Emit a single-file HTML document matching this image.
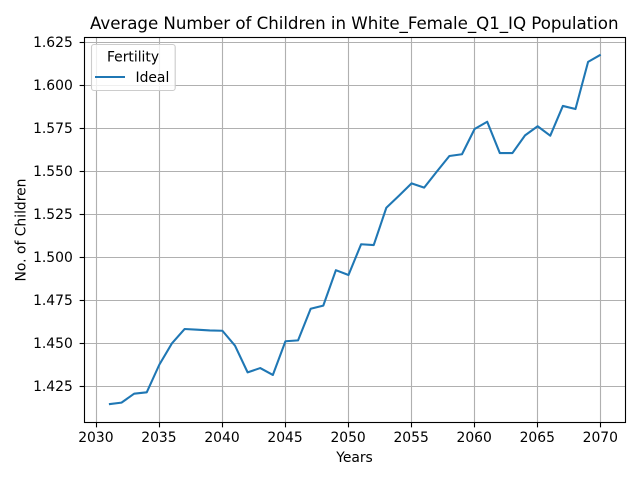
<!DOCTYPE html>
<html>
<head>
<meta charset="utf-8">
<style>
html,body{margin:0;padding:0;background:#fff;}
svg{display:block;font-family:"DejaVu Sans","Liberation Sans",sans-serif;fill:#000;}
</style>
</head>
<body>
<svg id="chart" width="640" height="480" viewBox="0 0 640 480" xmlns="http://www.w3.org/2000/svg">
  <rect x="0" y="0" width="640" height="480" fill="#ffffff"/>
  <text x="90" y="29" font-size="16.67" textLength="528.5" lengthAdjust="spacing">Average Number of Children in White_Female_Q1_IQ Population</text>
  <g id="grid"></g>
  <g id="series"></g>
  <rect x="84.5" y="37.5" width="541" height="385" fill="none" stroke="#000" stroke-width="1.11"/>
  <g id="ticks"></g>
  <text x="354.5" y="462" font-size="13.89" text-anchor="middle">Years</text>
  <text transform="translate(25.7,230) rotate(-90)" font-size="13.89" text-anchor="middle">No. of Children</text>
  <g>
    <rect x="91.5" y="44.5" width="83.7" height="46" rx="2.5" ry="2.5" fill="#ffffff" fill-opacity="0.8" stroke="#cccccc" stroke-width="1.11"/>
    <text x="133" y="61.5" font-size="13.89" text-anchor="middle">Fertility</text>
    <line x1="95" x2="125" y1="77" y2="77" stroke="#1f77b4" stroke-width="2.08"/>
    <text x="135.5" y="82" font-size="13.89">Ideal</text>
  </g>
</svg>
<script>
const years = [2031,2032,2033,2034,2035,2036,2037,2038,2039,2040,2041,2042,2043,2044,2045,2046,2047,2048,2049,2050,2051,2052,2053,2054,2055,2056,2057,2058,2059,2060,2061,2062,2063,2064,2065,2066,2067,2068,2069,2070];
const idealValues = [1.4146,1.4155,1.4207,1.4215,1.4376,1.4500,1.4583,1.4579,1.4575,1.4573,1.4486,1.4331,1.4356,1.4316,1.4512,1.4517,1.4701,1.4719,1.4925,1.4897,1.5076,1.5071,1.5288,1.5358,1.5430,1.5405,1.5498,1.5589,1.5599,1.5746,1.5788,1.5606,1.5606,1.5709,1.5762,1.5707,1.5880,1.5862,1.6136,1.6178];
const xTickValues = [2030,2035,2040,2045,2050,2055,2060,2065,2070];
const yTickValues = [1.425,1.450,1.475,1.500,1.525,1.550,1.575,1.600,1.625];
const yTickLabels = ['1.425','1.450','1.475','1.500','1.525','1.550','1.575','1.600','1.625'];

const NS = 'http://www.w3.org/2000/svg';
const plotLeft = 84.5, plotRight = 625.5, plotTop = 37.5, plotBottom = 422.5;

function xScale(v) { return 96.3 + (v - 2030) * 12.61; }
function yScale(v) { return 42.3 + (1.625 - v) * 1720; }
function snap(p) { return Math.floor(p) + 0.5; }

const gridLayer = document.getElementById('grid');
const tickLayer = document.getElementById('ticks');
const seriesLayer = document.getElementById('series');

function makeLine(x1, y1, x2, y2, stroke, width) {
  const l = document.createElementNS(NS, 'line');
  l.setAttribute('x1', x1);
  l.setAttribute('y1', y1);
  l.setAttribute('x2', x2);
  l.setAttribute('y2', y2);
  l.setAttribute('stroke', stroke);
  l.setAttribute('stroke-width', width);
  return l;
}

xTickValues.forEach(function (v) {
  const x = snap(xScale(v));
  const g = makeLine(x, plotTop, x, plotBottom, '#b0b0b0', 1.11);
  
  
  gridLayer.appendChild(g);
  const t = makeLine(x, plotBottom, x, plotBottom + 4.86, '#000', 1.11);
  
  
  tickLayer.appendChild(t);
  const lab = document.createElementNS(NS, 'text');
  
  
  lab.setAttribute('x', xScale(v) - 0.4);
  lab.setAttribute('y', 442);
  lab.setAttribute('font-size', '13.89');
  lab.setAttribute('text-anchor', 'middle');
  lab.textContent = String(v);
  tickLayer.appendChild(lab);
});

yTickValues.forEach(function (v, i) {
  const y = snap(yScale(v));
  const g = makeLine(plotLeft, y, plotRight, y, '#b0b0b0', 1.11);
  
  
  gridLayer.appendChild(g);
  const t = makeLine(plotLeft - 4.86, y, plotLeft, y, '#000', 1.11);
  
  
  tickLayer.appendChild(t);
  const lab = document.createElementNS(NS, 'text');
  
  
  lab.setAttribute('x', 72.8);
  lab.setAttribute('y', y + 4.5);
  lab.setAttribute('font-size', '13.89');
  lab.setAttribute('text-anchor', 'end');
  lab.textContent = yTickLabels[i];
  tickLayer.appendChild(lab);
});

const path = document.createElementNS(NS, 'polyline');


path.setAttribute('fill', 'none');
path.setAttribute('stroke', '#1f77b4');
path.setAttribute('stroke-width', '2.08');
path.setAttribute('stroke-linejoin', 'round');
path.setAttribute('stroke-linecap', 'butt');
path.setAttribute('points', years.map(function (yr, i) {
  return xScale(yr).toFixed(2) + ',' + yScale(idealValues[i]).toFixed(2);
}).join(' '));
seriesLayer.appendChild(path);
</script>
</body>
</html>
